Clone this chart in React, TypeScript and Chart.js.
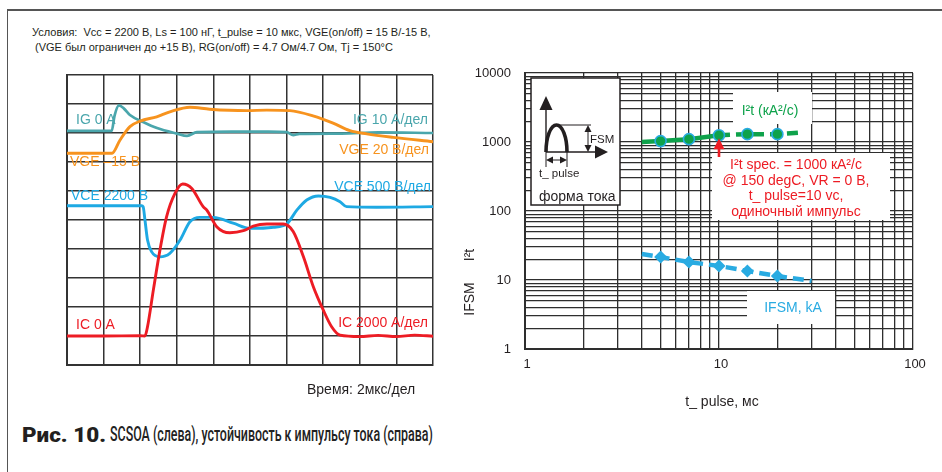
import React, { useEffect, useLayoutEffect, useRef } from "react";
import { Chart, registerables } from "chart.js";

Chart.register(...registerables);

// ---------------- Left: oscilloscope traces (values in screen divisions) ----------------
const igTime = [0, 1.22, 1.3, 1.42, 1.55, 1.72, 2.08, 2.46, 3.0, 3.28, 3.55, 4.5, 5.5, 6.0, 6.18, 6.35, 7.5, 8.5, 10];
const igLevel = [8.07, 8.07, 8.6, 8.95, 8.85, 8.62, 8.38, 8.17, 7.98, 7.9, 8.03, 8.05, 8.05, 8.03, 7.93, 7.97, 7.98, 8.02, 8.0];

const vgeTime = [0, 1.23, 1.45, 1.72, 2.0, 2.45, 2.81, 3.36, 3.9, 4.91, 5.46, 6.09, 6.72, 7.27, 7.73, 8.19, 8.91, 10];
const vgeLevel = [7.3, 7.3, 7.76, 8.22, 8.41, 8.56, 8.73, 8.89, 8.82, 8.77, 8.79, 8.77, 8.59, 8.34, 8.08, 7.97, 7.85, 7.7];

const vceTime = [0, 2.04, 2.08, 2.13, 2.2, 2.31, 2.54, 2.81, 3.09, 3.36, 3.63, 4.0, 4.54, 5.0, 5.64, 6.0, 6.28, 6.55, 6.87, 7.19, 7.46, 7.64, 8.46, 10];
const vceLevel = [5.49, 5.49, 5.46, 5.0, 4.31, 3.91, 3.73, 3.85, 4.31, 4.94, 5.09, 5.09, 4.89, 4.71, 4.75, 4.86, 5.34, 5.69, 5.83, 5.78, 5.63, 5.46, 5.44, 5.46];

const icTime = [0, 1.0, 2.0, 2.13, 2.2, 2.36, 2.54, 2.72, 2.95, 3.16, 3.41, 3.72, 3.82, 4.09, 4.45, 4.82, 5.09, 5.46, 5.91, 6.18, 6.46, 6.73, 7.0, 7.23, 7.46, 8.0, 8.5, 9.0, 9.5, 10];
const icLevel = [1.0, 1.0, 1.01, 1.0, 1.32, 2.59, 3.97, 5.11, 5.92, 6.24, 6.09, 5.46, 5.34, 4.77, 4.56, 4.63, 4.79, 4.86, 4.86, 4.6, 3.73, 2.7, 1.9, 1.32, 1.03, 0.98, 1.02, 0.98, 1.03, 0.99];

const scopeDivisions = 10;

// ---------------- Right: surge current capability ----------------
const i2tPulse = [4, 5, 7, 10, 14, 20, 27];
const i2tValues = [1000, 1030, 1100, 1250, 1300, 1300, 1380];
const ifsmPulse = [4, 5, 7, 10, 14, 20, 30];
const ifsmValues = [23.8, 21.5, 18.2, 16.0, 13.5, 11.4, 9.7];
const xMajorTicks = [1, 10, 100];
const yMajorTicks = [1, 10, 100, 1000, 10000];
const specPulse = 10;
const specI2t = 1250;

const FONT = '"Liberation Sans", Arial, sans-serif';
const TEAL = "#4aa6ac";
const ORANGE = "#f7931e";
const SKY = "#1ea9e3";
const RED = "#ed1c24";
const GREEN = "#0ea24b";
const BLUE = "#29abe2";
const INK = "#231f20";

const pts = (xs: number[], ys: number[]) => xs.map((x, i) => ({ x, y: ys[i] }));

function logGrid(majors: number[]) {
  const out: { value: number }[] = [];
  majors.forEach((m, i) => {
    if (i === majors.length - 1) {
      out.push({ value: m });
      return;
    }
    for (let k = 1; k <= 9; k++) out.push({ value: m * k });
  });
  return out;
}

const leftLabels = {
  id: "leftLabels",
  afterDatasetsDraw(chart: any) {
    const { ctx, chartArea: a } = chart;
    ctx.save();
    ctx.font = "14px " + FONT;
    ctx.textBaseline = "middle";
    const t = (s: string, c: string, align: string, x: number, y: number) => {
      ctx.fillStyle = c;
      ctx.textAlign = align;
      ctx.fillText(s, x, y);
    };
    t("IG 0 A", TEAL, "left", a.left + 9, a.top + 45);
    t("IG 10 A/дел", TEAL, "right", a.right - 5, a.top + 45);
    t("VGE –15 В", ORANGE, "left", a.left + 3, a.top + 87);
    t("VGE 20 В/дел", ORANGE, "right", a.right - 4, a.top + 75);
    t("VCE 2200 В", SKY, "left", a.left + 4, a.top + 121);
    t("VCE 500 В/дел", SKY, "right", a.right - 2, a.top + 112);
    t("IC 0 A", RED, "left", a.left + 9, a.top + 250);
    t("IC 2000 A/дел", RED, "right", a.right - 5, a.top + 248);
    t("Время: 2мкс/дел", INK, "left", a.left + 240, a.bottom + 25);
    ctx.restore();
  },
};

function arrowHead(ctx: any, tx: number, ty: number, dx: number, dy: number, len: number, half: number) {
  const bx = tx - dx * len;
  const by = ty - dy * len;
  ctx.beginPath();
  ctx.moveTo(tx, ty);
  ctx.lineTo(bx - dy * half, by + dx * half);
  ctx.lineTo(bx + dy * half, by - dx * half);
  ctx.closePath();
  ctx.fill();
}

const rightDecor = {
  id: "rightDecor",
  beforeDatasetsDraw(chart: any) {
    const { ctx, chartArea: a } = chart;
    const ox = a.left;
    const oy = a.top;
    ctx.save();
    ctx.fillStyle = "#fff";
    ctx.fillRect(ox + 208, oy + 19, 79, 32);
    ctx.fillRect(ox + 187, oy + 80, 178, 67);
    ctx.fillRect(ox + 222, oy + 218, 88, 33);

    // inset box "форма тока"
    ctx.fillRect(ox + 6, oy + 5, 89, 127);
    ctx.strokeStyle = INK;
    ctx.lineWidth = 1.5;
    ctx.strokeRect(ox + 6, oy + 5, 89, 127);
    ctx.fillStyle = INK;
    ctx.lineWidth = 1.4;
    const x0 = ox + 21;
    const y0 = oy + 79;
    ctx.beginPath();
    ctx.moveTo(x0, y0);
    ctx.lineTo(x0, oy + 36);
    ctx.moveTo(x0, y0);
    ctx.lineTo(ox + 71, y0);
    ctx.stroke();
    arrowHead(ctx, x0, oy + 23, 0, -1, 14, 6.5);
    arrowHead(ctx, ox + 83, y0, 1, 0, 13, 6.5);
    ctx.lineWidth = 3.6;
    ctx.beginPath();
    ctx.ellipse(ox + 31.5, y0, 10.5, 27, 0, Math.PI, 2 * Math.PI);
    ctx.stroke();
    ctx.lineWidth = 1;
    ctx.beginPath();
    ctx.moveTo(ox + 32, oy + 52);
    ctx.lineTo(ox + 66, oy + 52);
    ctx.moveTo(ox + 63, oy + 58);
    ctx.lineTo(ox + 63, oy + 73);
    ctx.stroke();
    arrowHead(ctx, ox + 63, oy + 52, 0, -1, 7, 3.5);
    arrowHead(ctx, ox + 63, y0, 0, 1, 7, 3.5);
    ctx.beginPath();
    ctx.moveTo(x0, y0);
    ctx.lineTo(x0, oy + 94);
    ctx.moveTo(ox + 42, y0);
    ctx.lineTo(ox + 42, oy + 94);
    ctx.moveTo(x0 + 6, oy + 87);
    ctx.lineTo(ox + 36, oy + 87);
    ctx.stroke();
    arrowHead(ctx, x0, oy + 87, -1, 0, 7, 3.5);
    arrowHead(ctx, ox + 42, oy + 87, 1, 0, 7, 3.5);
    ctx.textBaseline = "middle";
    ctx.textAlign = "left";
    ctx.font = "11.5px " + FONT;
    ctx.fillText("FSM", ox + 65, oy + 67);
    ctx.fillText("t_ pulse", ox + 14, oy + 101);
    ctx.font = "14px " + FONT;
    ctx.fillText("форма тока", ox + 14, oy + 124);

    ctx.textAlign = "center";
    ctx.fillStyle = GREEN;
    ctx.fillText("I²t (кА²/с)", ox + 245, oy + 38);
    ctx.fillStyle = RED;
    const lines = ["I²t spec. = 1000 кА²/с", "@ 150 degC, VR = 0 В,", "t_ pulse=10 vc,", "одиночный импульс"];
    lines.forEach((s, i) => ctx.fillText(s, ox + 271, oy + 92 + i * 15.7));
    ctx.fillStyle = BLUE;
    ctx.fillText("IFSM, kA", ox + 268, oy + 235);
    ctx.restore();
  },
  afterDatasetsDraw(chart: any) {
    const { ctx, chartArea: a, scales } = chart;
    const ax = scales.x.getPixelForValue(specPulse);
    const tipY = scales.y.getPixelForValue(specI2t) + 3;
    ctx.save();
    ctx.strokeStyle = RED;
    ctx.fillStyle = RED;
    ctx.lineWidth = 2.6;
    ctx.beginPath();
    ctx.moveTo(ax, a.top + 84);
    ctx.lineTo(ax, tipY + 8);
    ctx.stroke();
    arrowHead(ctx, ax, tipY, 0, -1, 11, 5.5);
    ctx.restore();
  },
  afterDraw(chart: any) {
    const { ctx, chartArea: a, scales } = chart;
    ctx.save();
    ctx.fillStyle = INK;
    ctx.font = "13px " + FONT;
    ctx.textBaseline = "middle";
    ctx.textAlign = "right";
    yMajorTicks.forEach((v) => ctx.fillText(String(v), a.left - 14, scales.y.getPixelForValue(v)));
    ctx.textAlign = "center";
    xMajorTicks.forEach((v) => ctx.fillText(String(v), scales.x.getPixelForValue(v) + 2, a.bottom + 15));
    ctx.font = "14px " + FONT;
    ctx.fillText("t_ pulse, мс", (a.left + a.right) / 2 + 3, a.bottom + 53);
    ctx.translate(a.left - 55, 0);
    ctx.rotate(-Math.PI / 2);
    ctx.fillText("IFSM", -244, 0);
    ctx.fillText("I²t", -200, 0);
    ctx.restore();
  },
};

function leftConfig(): any {
  const grid = { color: "#333", lineWidth: 1.5, drawTicks: false };
  const border = { color: "#333", width: 2 };
  const ds = (data: any, color: string, w: number) => ({
    data,
    borderColor: color,
    borderWidth: w,
    pointRadius: 0,
    cubicInterpolationMode: "monotone",
    fill: false,
  });
  return {
    type: "line",
    data: {
      datasets: [
        ds(pts(icTime, icLevel), RED, 2.9),
        ds(pts(vceTime, vceLevel), SKY, 2.9),
        ds(pts(vgeTime, vgeLevel), ORANGE, 2.9),
        ds(pts(igTime, igLevel), TEAL, 2.7),
      ],
    },
    options: {
      animation: false,
      responsive: false,
      layout: { padding: { left: 12, top: 10, right: 12, bottom: 40 } },
      plugins: { legend: { display: false }, tooltip: { enabled: false } },
      scales: {
        x: { type: "linear", min: 0, max: scopeDivisions, ticks: { display: false, stepSize: 1 }, grid, border },
        y: { type: "linear", min: 0, max: scopeDivisions, ticks: { display: false, stepSize: 1 }, grid, border },
      },
    },
    plugins: [leftLabels],
  };
}

function rightConfig(): any {
  const grid = { color: "#2e2e2e", lineWidth: 1.3, drawTicks: false };
  const border = { color: "#2e2e2e", width: 2 };
  return {
    type: "line",
    data: {
      datasets: [
        {
          data: pts(i2tPulse, i2tValues),
          borderColor: GREEN,
          borderWidth: 4.5,
          segment: { borderDash: (c: any) => (c.p0.parsed.x >= 10 ? [11, 6] : undefined) },
          pointRadius: (c: any) => (c.dataIndex === 0 || c.dataIndex === i2tPulse.length - 1 ? 0 : 5.5),
          pointBackgroundColor: GREEN,
          pointBorderColor: BLUE,
          pointBorderWidth: 1.6,
          pointStyle: "circle",
        },
        {
          data: pts(ifsmPulse, ifsmValues),
          borderColor: BLUE,
          borderWidth: 4.5,
          borderDash: [11, 6],
          pointRadius: (c: any) => (c.dataIndex === 0 || c.dataIndex === ifsmPulse.length - 1 ? 0 : 6.5),
          pointBackgroundColor: BLUE,
          pointBorderColor: BLUE,
          pointBorderWidth: 0,
          pointStyle: "rectRot",
        },
      ],
    },
    options: {
      animation: false,
      responsive: false,
      layout: { padding: { left: 70, top: 18, right: 29, bottom: 71 } },
      plugins: { legend: { display: false }, tooltip: { enabled: false } },
      scales: {
        x: {
          type: "logarithmic",
          min: 1,
          max: 100,
          afterBuildTicks: (s: any) => {
            s.ticks = logGrid(xMajorTicks);
          },
          ticks: { display: false, autoSkip: false },
          grid,
          border,
        },
        y: {
          type: "logarithmic",
          min: 1,
          max: 10000,
          afterBuildTicks: (s: any) => {
            s.ticks = logGrid(yMajorTicks);
          },
          ticks: { display: false, autoSkip: false },
          grid,
          border,
        },
      },
    },
    plugins: [rightDecor],
  };
}

export default function App() {
  const leftRef = useRef<HTMLCanvasElement>(null);
  const rightRef = useRef<HTMLCanvasElement>(null);
  const capBoldRef = useRef<HTMLSpanElement>(null);
  const capRestRef = useRef<HTMLSpanElement>(null);

  useEffect(() => {
    const l = new Chart(leftRef.current as HTMLCanvasElement, leftConfig());
    const r = new Chart(rightRef.current as HTMLCanvasElement, rightConfig());
    return () => {
      l.destroy();
      r.destroy();
    };
  }, []);

  useLayoutEffect(() => {
    const fit = (el: HTMLSpanElement | null, target: number) => {
      if (!el) return;
      const w = el.offsetWidth;
      if (w > 0) el.style.transform = `scaleX(${target / w})`;
    };
    fit(capBoldRef.current, 84);
    fit(capRestRef.current, 323);
  }, []);

  const capStyle: any = {
    position: "absolute",
    top: 423,
    font: "21px Roboto, sans-serif",
    lineHeight: "22px",
    whiteSpace: "nowrap",
  };

  return (
    <div style={{ position: "fixed", left: 0, top: 0, width: 942, height: 472, background: "#fff", overflow: "hidden" }}>
      <div style={{ position: "absolute", left: 7, top: 9, width: 940, height: 470, borderLeft: "1.5px solid #555", borderTop: "2px solid #555" }} />
      <div
        style={{
          position: "absolute",
          left: 32,
          top: 25,
          font: "11px " + FONT,
          lineHeight: "15px",
          color: INK,
          whiteSpace: "pre",
        }}
      >
        {"Условия:  Vcc = 2200 В, Ls = 100 нГ, t_pulse = 10 мкс, VGE(on/off) = 15 В/-15 В,\n (VGE был ограничен до +15 В), RG(on/off) = 4.7 Ом/4.7 Ом, Tj = 150°C"}
      </div>
      <canvas ref={leftRef} width={390} height={340} style={{ position: "absolute", left: 55, top: 65 }} />
      <canvas ref={rightRef} width={487} height={365} style={{ position: "absolute", left: 455, top: 55 }} />
      <div style={{ ...capStyle, left: 22, top: 424, fontSize: 20 }}>
        <span ref={capBoldRef} style={{ display: "inline-block", transformOrigin: "0 0", color: INK, fontWeight: 900 }}>
          Рис. 10.
        </span>
      </div>
      <div style={{ ...capStyle, left: 110 }}>
        <span ref={capRestRef} style={{ display: "inline-block", transformOrigin: "0 0", color: "#222", fontWeight: 500 }}>
          SCSOA (слева), устойчивость к импульсу тока (справа)
        </span>
      </div>
    </div>
  );
}
